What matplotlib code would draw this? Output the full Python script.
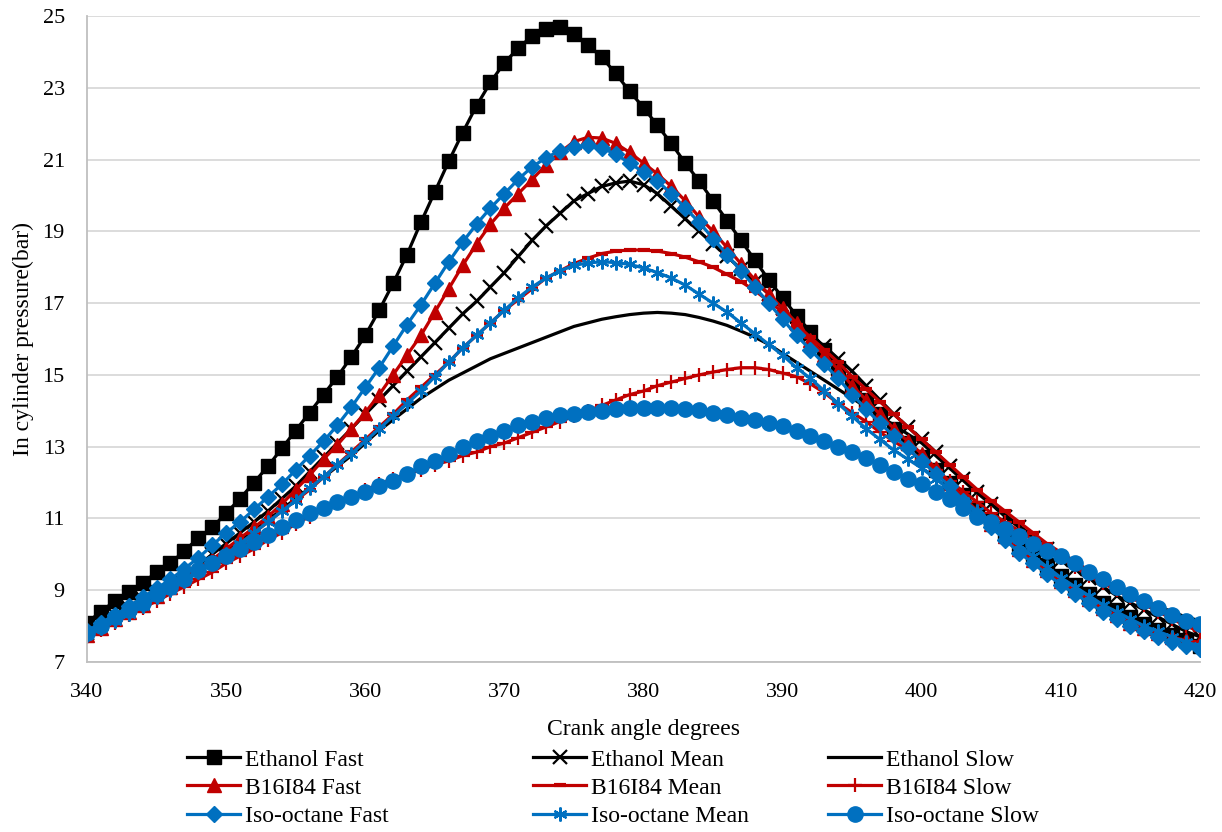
import matplotlib.pyplot as plt

# crank angle, one reading per degree
crank_angle = list(range(340, 421))

ethanol_fast = [
    8.1, 8.4, 8.7, 8.95, 9.2, 9.5, 9.75, 10.1, 10.45, 10.75,
    11.15, 11.55, 12.0, 12.45, 12.95, 13.45, 13.95, 14.45, 14.95, 15.5,
    16.1, 16.8, 17.55, 18.35, 19.25, 20.1, 20.95, 21.75, 22.5, 23.15,
    23.7, 24.1, 24.45, 24.65, 24.7, 24.5, 24.2, 23.85, 23.4, 22.9,
    22.45, 21.95, 21.45, 20.9, 20.4, 19.85, 19.3, 18.75, 18.2, 17.65,
    17.15, 16.65, 16.2, 15.7, 15.2, 14.75, 14.3, 13.9, 13.5, 13.1,
    12.7, 12.35, 12.0, 11.65, 11.3, 10.95, 10.6, 10.3, 10.0, 9.7,
    9.4, 9.15, 8.9, 8.65, 8.45, 8.25, 8.05, 7.9, 7.75, 7.6,
    7.45]
ethanol_mean = [
    7.8, 8.05, 8.3, 8.5, 8.75, 8.95, 9.2, 9.45, 9.7, 10.0,
    10.3, 10.6, 10.9, 11.2, 11.55, 11.9, 12.3, 12.7, 13.1, 13.5,
    13.9, 14.3, 14.7, 15.1, 15.5, 15.9, 16.3, 16.7, 17.05, 17.45,
    17.85, 18.3, 18.75, 19.15, 19.5, 19.85, 20.05, 20.25, 20.35, 20.4,
    20.3, 20.05, 19.7, 19.35, 19.0, 18.65, 18.3, 17.95, 17.6, 17.25,
    16.85, 16.45, 16.1, 15.8, 15.45, 15.1, 14.7, 14.3, 13.9, 13.55,
    13.2, 12.85, 12.45, 12.1, 11.75, 11.4, 11.05, 10.75, 10.45, 10.15,
    9.85, 9.6, 9.35, 9.1, 8.85, 8.65, 8.45, 8.25, 8.05, 7.85,
    7.7]
ethanol_slow = [
    7.8, 8.0, 8.2, 8.45, 8.65, 8.9, 9.1, 9.35, 9.6, 9.85,
    10.1, 10.4, 10.65, 10.95, 11.25, 11.55, 11.85, 12.15, 12.45, 12.75,
    13.1, 13.45, 13.75, 14.05, 14.35, 14.6, 14.85, 15.05, 15.25, 15.45,
    15.6, 15.75, 15.9, 16.05, 16.2, 16.35, 16.45, 16.55, 16.62, 16.68,
    16.72, 16.74, 16.72, 16.68, 16.6, 16.5, 16.38, 16.22, 16.05, 15.85,
    15.6, 15.35, 15.1, 14.85, 14.6, 14.35, 14.1, 13.85, 13.6, 13.35,
    13.1, 12.75, 12.4, 12.05, 11.7, 11.4, 11.1, 10.8, 10.5, 10.25,
    10.0, 9.75, 9.5, 9.25, 9.05, 8.85, 8.7, 8.55, 8.4, 8.25,
    8.15]

b16i84_fast = [
    7.75, 7.95, 8.2, 8.4, 8.6, 8.85, 9.1, 9.35, 9.6, 9.85,
    10.15, 10.45, 10.75, 11.05, 11.4, 11.8, 12.2, 12.65, 13.05, 13.5,
    13.95, 14.45, 15.0, 15.55, 16.1, 16.75, 17.4, 18.05, 18.65, 19.2,
    19.65, 20.05, 20.45, 20.85, 21.2, 21.5, 21.62, 21.6, 21.45, 21.2,
    20.9, 20.6, 20.25, 19.85, 19.4, 19.0, 18.55, 18.1, 17.65, 17.25,
    16.85, 16.45, 15.97, 15.55, 15.15, 14.7, 14.3, 13.9, 13.5, 13.15,
    12.8, 12.4, 12.0, 11.6, 11.2, 10.85, 10.5, 10.15, 9.85, 9.55,
    9.25, 9.0, 8.75, 8.5, 8.3, 8.1, 7.95, 7.8, 7.7, 7.6,
    7.55]
b16i84_mean = [
    7.7, 7.95, 8.15, 8.35, 8.6, 8.8, 9.05, 9.3, 9.5, 9.75,
    10.05, 10.3, 10.6, 10.9, 11.2, 11.5, 11.8, 12.15, 12.5, 12.85,
    13.2, 13.55, 13.9, 14.3, 14.65, 15.0, 15.35, 15.75, 16.1, 16.45,
    16.8, 17.1, 17.4, 17.7, 17.9, 18.1, 18.25, 18.38, 18.45, 18.48,
    18.48, 18.45, 18.38, 18.28, 18.15, 18.0, 17.8, 17.6, 17.35, 17.05,
    16.75, 16.4, 16.05, 15.7, 15.35, 14.95, 14.6, 14.25, 13.9, 13.55,
    13.2, 12.85, 12.5, 12.15, 11.8, 11.5, 11.2, 10.9, 10.6, 10.3,
    10.05, 9.8, 9.55, 9.3, 9.1, 8.9, 8.7, 8.5, 8.3, 8.1,
    7.95]
b16i84_slow = [
    7.7, 7.9, 8.1, 8.3, 8.5, 8.7, 8.9, 9.1, 9.3, 9.5,
    9.75, 9.95, 10.15, 10.4, 10.6, 10.85, 11.05, 11.25, 11.45, 11.6,
    11.8, 11.95, 12.1, 12.25, 12.35, 12.5, 12.6, 12.75, 12.85, 13.0,
    13.1, 13.25, 13.4, 13.55, 13.7, 13.85, 14.0, 14.15, 14.3, 14.45,
    14.55, 14.7, 14.8, 14.9, 15.0, 15.08, 15.15, 15.2, 15.2, 15.15,
    15.05, 14.95, 14.75, 14.5, 14.2, 13.95, 13.7, 13.4, 13.15, 12.9,
    12.65, 12.35, 12.05, 11.75, 11.45, 11.15, 10.9, 10.65, 10.4, 10.15,
    9.9, 9.65, 9.4, 9.2, 9.0, 8.8, 8.6, 8.4, 8.2, 8.0,
    7.85]

isooctane_fast = [
    7.85, 8.1, 8.3, 8.55, 8.8, 9.05, 9.3, 9.6, 9.9, 10.25,
    10.6, 10.9, 11.25, 11.6, 11.95, 12.35, 12.75, 13.15, 13.6, 14.1,
    14.65, 15.2, 15.8, 16.4, 16.95, 17.55, 18.15, 18.7, 19.2, 19.65,
    20.05, 20.45, 20.8, 21.05, 21.25, 21.35, 21.4, 21.32, 21.15, 20.9,
    20.65, 20.4, 20.05, 19.65, 19.25, 18.8, 18.35, 17.9, 17.45, 17.0,
    16.55, 16.1, 15.7, 15.3, 14.9, 14.45, 14.05, 13.65, 13.3, 12.95,
    12.6, 12.25, 11.9, 11.5, 11.1, 10.75, 10.4, 10.05, 9.75, 9.45,
    9.15, 8.9, 8.65, 8.4, 8.2, 8.0, 7.85, 7.7, 7.55, 7.45,
    7.35]
isooctane_mean = [
    7.75, 7.95, 8.15, 8.35, 8.55, 8.8, 9.0, 9.25, 9.5, 9.75,
    10.0, 10.3, 10.6, 10.9, 11.2, 11.5, 11.85, 12.15, 12.5, 12.8,
    13.15, 13.5, 13.85, 14.2, 14.55, 14.95, 15.35, 15.75, 16.1, 16.45,
    16.8, 17.15, 17.45, 17.7, 17.9, 18.05, 18.12, 18.15, 18.13, 18.08,
    17.98, 17.85, 17.7, 17.5, 17.25, 17.0, 16.75, 16.45, 16.15, 15.85,
    15.55, 15.2, 14.9, 14.55, 14.2, 13.85, 13.5, 13.2, 12.9, 12.65,
    12.4, 12.1, 11.8, 11.5, 11.2, 10.9, 10.55, 10.25, 9.95, 9.65,
    9.35, 9.1, 8.85, 8.6, 8.4, 8.2, 8.0, 7.85, 7.7, 7.55,
    7.45]
isooctane_slow = [
    7.8, 8.0, 8.25, 8.45, 8.65, 8.9, 9.1, 9.3, 9.55, 9.75,
    9.95, 10.15, 10.35, 10.55, 10.75, 10.95, 11.15, 11.3, 11.45, 11.6,
    11.75, 11.9, 12.05, 12.25, 12.45, 12.6, 12.8, 13.0, 13.15, 13.3,
    13.45, 13.6, 13.7, 13.8, 13.87, 13.92, 13.96, 14.0, 14.05, 14.08,
    14.08, 14.08, 14.07, 14.05, 14.02, 13.95, 13.87, 13.8, 13.75, 13.66,
    13.57, 13.45, 13.3, 13.15, 13.0, 12.85, 12.68, 12.5, 12.3, 12.1,
    11.95, 11.75, 11.55, 11.3, 11.05, 10.9, 10.7, 10.5, 10.3, 10.1,
    9.95, 9.75, 9.5, 9.3, 9.1, 8.9, 8.7, 8.5, 8.3, 8.15,
    8.05]

BLACK = '#000000'
RED = '#C00000'
BLUE = '#0070C0'

plt.rcParams['font.family'] = ['Liberation Serif', 'DejaVu Serif']

W, H = 1222, 832
fig = plt.figure(figsize=(W / 100, H / 100), dpi=100)
ax = fig.add_axes([87 / W, 1 - 662 / H, (1200 - 87) / W, (662 - 16) / H])

series = [
    ('Ethanol Fast', ethanol_fast, BLACK, dict(marker='s', ms=10)),
    ('Ethanol Mean', ethanol_mean, BLACK, dict(marker='x', ms=9.5, mew=1.6)),
    ('Ethanol Slow', ethanol_slow, BLACK, dict(marker=None)),
    ('B16I84 Fast', b16i84_fast, RED, dict(marker='^', ms=10.5)),
    ('B16I84 Mean', b16i84_mean, RED, dict(marker='_', ms=9, mew=3)),
    ('B16I84 Slow', b16i84_slow, RED, dict(marker='+', ms=10, mew=1.6)),
    ('Iso-octane Fast', isooctane_fast, BLUE, dict(marker='D', ms=8)),
    ('Iso-octane Mean', isooctane_mean, BLUE, dict(marker=(6, 2, 0), ms=10, mew=1.6)),
    ('Iso-octane Slow', isooctane_slow, BLUE, dict(marker='o', ms=11)),
]

lines = {}
for label, values, color, style in series:
    ln, = ax.plot(crank_angle, values, color=color, lw=2.3, label=label,
                  mfc=color, mec=color, **style)
    lines[label] = ln

ax.set_xlim(340, 420)
ax.set_ylim(7, 25)
ax.set_xticks(range(340, 421, 10))
ax.set_yticks(range(7, 26, 2))
ax.tick_params(length=0, labelsize=16)
ax.tick_params(axis='x', pad=15)
ax.tick_params(axis='y', pad=16)
ax.grid(axis='y', color='#D9D9D9', lw=1.3)
ax.set_axisbelow(True)
for side in ('top', 'right'):
    ax.spines[side].set_visible(False)
for side in ('left', 'bottom'):
    ax.spines[side].set_color('#BFBFBF')
    ax.spines[side].set_linewidth(1.3)

ax.set_xlabel('Crank angle degrees', fontsize=17, labelpad=12)
ax.set_ylabel('In cylinder pressure(bar)', fontsize=17, labelpad=6)

# one legend column per run speed
columns = [
    (187, ['Ethanol Fast', 'B16I84 Fast', 'Iso-octane Fast']),
    (533, ['Ethanol Mean', 'B16I84 Mean', 'Iso-octane Mean']),
    (828, ['Ethanol Slow', 'B16I84 Slow', 'Iso-octane Slow']),
]
for x0, names in columns:
    fig.legend([lines[k] for k in names], names, loc='upper left',
               bbox_to_anchor=(x0 / W, 1 - 749 / H), frameon=False,
               fontsize=17, handlelength=2.25, handletextpad=0.2,
               labelspacing=0.28, borderpad=0, borderaxespad=0)

fig.savefig('out.png', dpi=100)
